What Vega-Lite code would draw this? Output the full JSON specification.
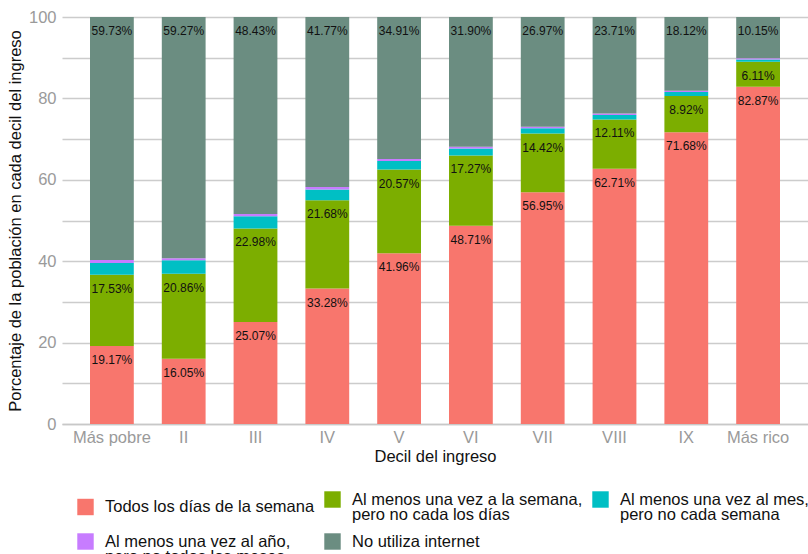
{
  "$schema": "https://vega.github.io/schema/vega-lite/v6.json",
  "width": 746,
  "height": 407,
  "autosize": {"type": "none"},
  "padding": {"left": 62, "top": 17, "right": 0, "bottom": 130},
  "background": "white",
  "config": {
    "font": "Liberation Sans",
    "view": {"stroke": null},
    "axis": {"labelFont": "Liberation Sans", "titleFont": "Liberation Sans"},
    "legend": {"labelFont": "Liberation Sans"},
    "style": {"guide-label": {"lineHeight": 15}}
  },
  "data": {
    "values": [
      {"decil": "Más pobre", "cat": "Todos los días de la semana", "ord": 1, "value": 19.17},
      {"decil": "Más pobre", "cat": "Al menos una vez a la semana,\npero no cada los días", "ord": 2, "value": 17.53},
      {"decil": "Más pobre", "cat": "Al menos una vez al mes,\npero no cada semana", "ord": 3, "value": 2.85},
      {"decil": "Más pobre", "cat": "Al menos una vez al año,\npero no todos los meses", "ord": 4, "value": 0.72},
      {"decil": "Más pobre", "cat": "No utiliza internet", "ord": 5, "value": 59.73},
      {"decil": "II", "cat": "Todos los días de la semana", "ord": 1, "value": 16.05},
      {"decil": "II", "cat": "Al menos una vez a la semana,\npero no cada los días", "ord": 2, "value": 20.86},
      {"decil": "II", "cat": "Al menos una vez al mes,\npero no cada semana", "ord": 3, "value": 3.3},
      {"decil": "II", "cat": "Al menos una vez al año,\npero no todos los meses", "ord": 4, "value": 0.52},
      {"decil": "II", "cat": "No utiliza internet", "ord": 5, "value": 59.27},
      {"decil": "III", "cat": "Todos los días de la semana", "ord": 1, "value": 25.07},
      {"decil": "III", "cat": "Al menos una vez a la semana,\npero no cada los días", "ord": 2, "value": 22.98},
      {"decil": "III", "cat": "Al menos una vez al mes,\npero no cada semana", "ord": 3, "value": 3.02},
      {"decil": "III", "cat": "Al menos una vez al año,\npero no todos los meses", "ord": 4, "value": 0.5},
      {"decil": "III", "cat": "No utiliza internet", "ord": 5, "value": 48.43},
      {"decil": "IV", "cat": "Todos los días de la semana", "ord": 1, "value": 33.28},
      {"decil": "IV", "cat": "Al menos una vez a la semana,\npero no cada los días", "ord": 2, "value": 21.68},
      {"decil": "IV", "cat": "Al menos una vez al mes,\npero no cada semana", "ord": 3, "value": 2.65},
      {"decil": "IV", "cat": "Al menos una vez al año,\npero no todos los meses", "ord": 4, "value": 0.62},
      {"decil": "IV", "cat": "No utiliza internet", "ord": 5, "value": 41.77},
      {"decil": "V", "cat": "Todos los días de la semana", "ord": 1, "value": 41.96},
      {"decil": "V", "cat": "Al menos una vez a la semana,\npero no cada los días", "ord": 2, "value": 20.57},
      {"decil": "V", "cat": "Al menos una vez al mes,\npero no cada semana", "ord": 3, "value": 2.1},
      {"decil": "V", "cat": "Al menos una vez al año,\npero no todos los meses", "ord": 4, "value": 0.46},
      {"decil": "V", "cat": "No utiliza internet", "ord": 5, "value": 34.91},
      {"decil": "VI", "cat": "Todos los días de la semana", "ord": 1, "value": 48.71},
      {"decil": "VI", "cat": "Al menos una vez a la semana,\npero no cada los días", "ord": 2, "value": 17.27},
      {"decil": "VI", "cat": "Al menos una vez al mes,\npero no cada semana", "ord": 3, "value": 1.72},
      {"decil": "VI", "cat": "Al menos una vez al año,\npero no todos los meses", "ord": 4, "value": 0.4},
      {"decil": "VI", "cat": "No utiliza internet", "ord": 5, "value": 31.9},
      {"decil": "VII", "cat": "Todos los días de la semana", "ord": 1, "value": 56.95},
      {"decil": "VII", "cat": "Al menos una vez a la semana,\npero no cada los días", "ord": 2, "value": 14.42},
      {"decil": "VII", "cat": "Al menos una vez al mes,\npero no cada semana", "ord": 3, "value": 1.28},
      {"decil": "VII", "cat": "Al menos una vez al año,\npero no todos los meses", "ord": 4, "value": 0.38},
      {"decil": "VII", "cat": "No utiliza internet", "ord": 5, "value": 26.97},
      {"decil": "VIII", "cat": "Todos los días de la semana", "ord": 1, "value": 62.71},
      {"decil": "VIII", "cat": "Al menos una vez a la semana,\npero no cada los días", "ord": 2, "value": 12.11},
      {"decil": "VIII", "cat": "Al menos una vez al mes,\npero no cada semana", "ord": 3, "value": 1.12},
      {"decil": "VIII", "cat": "Al menos una vez al año,\npero no todos los meses", "ord": 4, "value": 0.35},
      {"decil": "VIII", "cat": "No utiliza internet", "ord": 5, "value": 23.71},
      {"decil": "IX", "cat": "Todos los días de la semana", "ord": 1, "value": 71.68},
      {"decil": "IX", "cat": "Al menos una vez a la semana,\npero no cada los días", "ord": 2, "value": 8.92},
      {"decil": "IX", "cat": "Al menos una vez al mes,\npero no cada semana", "ord": 3, "value": 1.0},
      {"decil": "IX", "cat": "Al menos una vez al año,\npero no todos los meses", "ord": 4, "value": 0.28},
      {"decil": "IX", "cat": "No utiliza internet", "ord": 5, "value": 18.12},
      {"decil": "Más rico", "cat": "Todos los días de la semana", "ord": 1, "value": 82.87},
      {"decil": "Más rico", "cat": "Al menos una vez a la semana,\npero no cada los días", "ord": 2, "value": 6.11},
      {"decil": "Más rico", "cat": "Al menos una vez al mes,\npero no cada semana", "ord": 3, "value": 0.6},
      {"decil": "Más rico", "cat": "Al menos una vez al año,\npero no todos los meses", "ord": 4, "value": 0.27},
      {"decil": "Más rico", "cat": "No utiliza internet", "ord": 5, "value": 10.15}
    ]
  },
  "transform": [
    {"stack": "value", "groupby": ["decil"], "sort": [{"field": "ord", "order": "ascending"}], "as": ["y0", "y1"]},
    {"calculate": "format(datum.value, '.2f') + '%'", "as": "lbl"}
  ],
  "encoding": {
    "x": {
      "field": "decil",
      "type": "nominal",
      "sort": ["Más pobre", "II", "III", "IV", "V", "VI", "VII", "VIII", "IX", "Más rico"],
      "scale": {"paddingInner": 0.39, "paddingOuter": 0.39},
      "axis": {
        "title": "Decil del ingreso",
        "labelAngle": 0,
        "labelFontSize": 16.5,
        "labelColor": "#9a9a9a",
        "labelPadding": 5,
        "ticks": false,
        "domainColor": "#c8c8c8",
        "domainWidth": 1.5,
        "titleFontSize": 16.5,
        "titleFontWeight": "normal",
        "titleColor": "#111111",
        "titlePadding": 3
      }
    }
  },
  "layer": [
    {
      "mark": {"type": "bar"},
      "encoding": {
        "y": {
          "field": "y1",
          "type": "quantitative",
          "scale": {"domain": [0, 100], "nice": false},
          "axis": {
            "title": "Porcentaje de la población en cada decil del ingreso",
            "values": [0, 10, 20, 30, 40, 50, 60, 70, 80, 90, 100],
            "labelExpr": "datum.value % 20 == 0 ? datum.label : ''",
            "labelFontSize": 16.5,
            "labelColor": "#9a9a9a",
            "labelPadding": 6,
            "ticks": false,
            "domain": false,
            "gridColor": "#cccccc",
            "gridWidth": 1.3,
            "titleFontSize": 16.5,
            "titleFontWeight": "normal",
            "titleColor": "#111111",
            "titlePadding": 5
          }
        },
        "y2": {"field": "y0"},
        "color": {
          "field": "cat",
          "type": "nominal",
          "scale": {
            "domain": [
              "Todos los días de la semana",
              "Al menos una vez a la semana,\npero no cada los días",
              "Al menos una vez al mes,\npero no cada semana",
              "Al menos una vez al año,\npero no todos los meses",
              "No utiliza internet"
            ],
            "range": ["#F8766D", "#7CAE00", "#00BFC4", "#C77CFF", "#6B8D81"]
          },
          "legend": {
            "title": null,
            "orient": "none",
            "legendX": 15,
            "legendY": 474,
            "direction": "horizontal",
            "columns": 3,
            "symbolType": "square",
            "symbolSize": 270,
            "symbolStrokeWidth": 0,
            "labelFontSize": 16.5,
            "labelColor": "#111111",
            "labelOffset": 11,
            "labelLimit": 400,
            "labelExpr": "split(datum.label, '\\n')",
            "columnPadding": 9,
            "rowPadding": 10
          }
        }
      }
    },
    {
      "transform": [{"filter": "datum.ord == 1 || datum.ord == 2 || datum.ord == 5"}],
      "mark": {"type": "text", "baseline": "middle", "dy": 14, "fontSize": 12, "color": "#111111"},
      "encoding": {
        "y": {"field": "y1", "type": "quantitative"},
        "text": {"field": "lbl", "type": "nominal"}
      }
    }
  ]
}
